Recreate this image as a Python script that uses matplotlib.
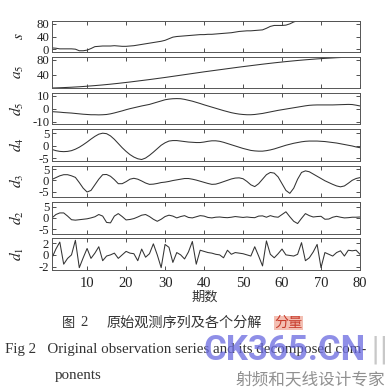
import matplotlib
matplotlib.use("Agg")
import matplotlib.pyplot as plt
import numpy as np

plt.rcParams['font.family'] = ['Liberation Serif', 'Noto Sans CJK SC']
plt.rcParams['mathtext.fontset'] = 'stix'
plt.rcParams['axes.unicode_minus'] = False

periods = np.arange(1, 81)

# original series and its wavelet components
s = [4, 3, 1, 1, 1, 1, 0, -5, -5, -3, 2, 8, 9, 10, 10, 10, 11, 10, 9, 9,
     10, 11, 13, 15, 17, 19, 21, 23, 25, 28, 33, 38, 40, 41, 42, 43, 44, 45, 46, 46,
     47, 47, 48, 49, 50, 51, 52, 54, 56, 57, 58, 58, 59, 60, 61, 66, 72, 75, 75, 75,
     76, 80, 86, 90, 89, 88, 88, 88, 88, 88, 88, 88, 88, 88, 88, 88, 89, 89, 90, 90]
a5 = [5, 5.3, 5.7, 6.1, 6.6, 7.1, 7.7, 8.3, 9.0, 9.8, 10.6, 11.4, 12.3, 13.2, 14.2, 15.2,
      16.3, 17.4, 18.6, 19.8, 21.0, 22.3, 23.6, 24.9, 26.2, 27.5, 28.9, 30.3, 31.7, 33.1,
      34.6, 36.1, 37.6, 39.1, 40.6, 42.1, 43.6, 45.1, 46.6, 48.1, 49.5, 50.9, 52.3, 53.7,
      55.1, 56.5, 57.9, 59.3, 60.7, 62.0, 63.3, 64.6, 65.9, 67.2, 68.5, 69.7, 70.9, 72.1,
      73.2, 74.3, 75.4, 76.4, 77.4, 78.4, 79.3, 80.2, 81.0, 81.8, 82.6, 83.3, 84.0, 84.6,
      85.2, 85.8, 86.3, 86.8, 87.2, 87.5, 87.8, 88.0]
d5 = [-2.2, -2.4, -2.6, -2.9, -3.1, -3.3, -3.6, -3.9, -4.2, -4.4, -4.6, -4.6, -4.7, -4.6,
      -4.4, -3.9, -3.2, -2.4, -1.6, -0.7, 0.1, 0.8, 1.5, 2.2, 2.8, 3.4, 4.3, 5.2, 6.1, 7.0,
      7.5, 7.8, 7.9, 7.8, 7.3, 6.6, 5.9, 5.0, 4.1, 3.1, 2.2, 1.3, 0.4, -0.5, -1.4, -2.2,
      -3.0, -3.6, -4.1, -4.4, -4.6, -4.6, -4.4, -4.0, -3.6, -3.0, -2.4, -1.8, -1.2, -0.7,
      -0.2, 0.3, 0.8, 1.3, 1.8, 2.3, 2.7, 2.9, 3.0, 3.0, 3.0, 3.0, 3.0, 3.1, 3.2, 3.3,
      3.4, 3.3, 2.8, 2.2]
d4 = [-1.5, -2.0, -2.3, -2.4, -2.3, -2.0, -1.4, -0.6, 0.4, 1.5, 2.7, 3.8, 4.7, 5.1, 4.9,
      4.0, 2.6, 0.9, -0.8, -2.3, -3.6, -4.6, -5.3, -5.6, -5.0, -3.9, -2.6, -1.2, 0.2, 1.2,
      1.9, 2.1, 2.1, 1.9, 1.7, 1.5, 1.4, 1.3, 1.3, 1.5, 1.8, 2.0, 2.0, 1.8, 1.4, 0.9, 0.4,
      -0.1, -0.6, -1.1, -1.5, -1.9, -2.1, -2.2, -2.2, -2.0, -1.7, -1.3, -0.8, -0.3, 0.2,
      0.6, 1.0, 1.3, 1.6, 1.8, 1.9, 1.9, 1.9, 1.8, 1.7, 1.5, 1.3, 1.1, 0.8, 0.5, 0.2,
      -0.1, -0.5, -0.8]
d3 = [0.4, 1.2, 2.0, 2.5, 2.5, 2.0, 1.3, -1.0, -3.5, -5.2, -4.5, -2.0, 0.5, 2.5, 2.6, 1.8,
      0.3, -1.5, -1.5, -0.6, 0.5, 0.9, 0.5, -0.3, -1.2, -1.8, -1.7, -1.4, -1.0, -0.8, -0.5,
      -0.1, 0.2, 0.5, 0.8, 0.8, 0.5, 0.1, -0.4, -0.9, -1.4, -1.8, -1.7, -1.2, -0.6, 0.0,
      0.6, 1.0, 1.1, 0.7, -0.5, -2.0, -2.8, -1.5, 0.5, 2.5, 3.5, 3.2, 1.5, -1.5, -4.5,
      -5.8, -3.5, 0.5, 3.5, 4.2, 3.8, 2.8, 1.8, 0.8, -0.2, -1.0, -1.8, -2.5, -2.9, -2.5,
      -1.3, 0.0, 0.8, 1.2]
d2 = [0, 1.5, 2.2, 2.2, 0.8, -0.8, -1.0, -0.8, -0.6, -0.4, 0.0, 0.5, 1.5, 0.8, -2.0, -2.2,
      0.8, 1.9, 0.6, -0.9, -0.7, -0.3, 0.4, 1.2, 1.5, 0.6, -0.6, -1.5, -0.6, 0.6, 1.2, 0.8,
      0.0, 0.6, 1.0, 0.2, 0.0, 0.5, 1.0, 0.8, 0.2, 0.0, 0.3, 0.4, 0.2, 0.1, 0.3, 0.6, 0.4,
      0.2, 0.4, 0.2, 0.1, 0.8, 0.9, 0.3, 1.0, 0.5, 0.3, 1.5, 2.7, 0.5, -1.5, -2.5, -0.2,
      1.9, 1.0, 0.4, 0.6, 0.7, -0.6, -0.5, 0.3, 0.7, 0.3, 0.0, 0.1, 0.3, 0.3, 0.4]
d1 = [-0.5, 1.0, 2.2, -1.6, -0.6, 0.0, 2.5, -2.2, -0.5, 1.1, -0.6, 0.3, 1.4, -1.0, -0.2,
      0.0, 0.3, -0.6, 0.0, 0.6, 0.3, 0.2, -1.0, 1.0, -0.4, 0.2, 1.9, 0.0, -2.2, 1.8, 1.3,
      -1.3, 0.4, 0.0, -0.7, 0.5, 2.3, -1.6, 0.8, 0.6, 0.4, 0.3, 0.1, 0.0, -0.5, 0.8, 0.1,
      0.4, 0.3, 0.2, 0.0, -0.2, 1.4, -0.2, -1.9, 2.4, 0.1, -0.5, 0.2, 1.0, 0.0, -0.1,
      -0.2, 0.1, 2.1, -1.0, -0.5, 0.5, 1.8, -2.2, 0.4, 0.1, -0.2, 0.4, 0.7, -0.2, 0.8,
      0.7, 0.8, 0.1]

names = ['$s$', '$a_5$', '$d_5$', '$d_4$', '$d_3$', '$d_2$', '$d_1$']
series = [s, a5, d5, d4, d3, d2, d1]
yticks = [[0, 40, 80], [40, 80], [-10, 0, 10], [-5, 0, 5], [-5, 0, 5], [-5, 0, 5], [-2, 0, 2]]
ylims = [(-8, 90), (5, 89), (-12, 12), (-6, 6.8), (-7.2, 6.5), (-6.9, 6.9), (-2.6, 2.85)]
xticks = [10, 20, 30, 40, 50, 60, 70, 80]

W, H = 389, 390
fig = plt.figure(figsize=(W / 100, H / 100), dpi=100)

# panel top/bottom in pixels
rows = [(20.7, 51.7), (56.5, 88), (93.3, 124.3), (129, 160.5),
        (165.7, 196.5), (202.3, 233.5), (238.3, 270)]

for i, (top, bot) in enumerate(rows):
    ax = fig.add_axes([52 / W, 1 - bot / H, 308 / W, (bot - top) / H])
    ax.plot(periods, series[i], color='#333333', lw=0.75)
    ax.set_xlim(1, 80)
    ax.set_ylim(*ylims[i])
    ax.set_yticks(yticks[i])
    ax.set_xticks(xticks)
    ax.tick_params(direction='in', top=True, right=True, length=3, width=0.6,
                   labelsize=9.2, pad=2, colors='#333333', labelcolor='#222222')
    ax.tick_params(axis='x', pad=5, labelsize=10.5)
    if i < len(rows) - 1:
        ax.set_xticklabels([])
    for sp in ax.spines.values():
        sp.set_color('#555555')
        sp.set_linewidth(0.7)
    ax.set_ylabel(names[i], fontsize=11, color='#222222')
    ax.yaxis.set_label_coords(-0.085, 0.5)

fig.text(205 / W, 1 - 297 / H, '期数', family=['Noto Sans CJK SC'], fontsize=9.5,
         ha='center', va='center', color='#333333')

# captions
fig.text(62 / W, 1 - 323 / H, '图', family=['Noto Sans CJK SC'], fontsize=9.5,
         ha='left', va='center', color='#333333')
fig.text(80 / W, 1 - 323 / H, '2', fontsize=10.5, ha='left', va='center', color='#333333')
fig.text(107 / W, 1 - 323 / H, '原始观测序列及各个分解', family=['Noto Sans CJK SC'],
         fontsize=10.2, ha='left', va='center', color='#333333')
fig.text(274 / W, 1 - 323 / H, '分量', family=['Noto Sans CJK SC'], fontsize=10.2,
         ha='left', va='center', color='#c83c2c',
         bbox=dict(facecolor='#f0b0a0', edgecolor='none', pad=0.3, alpha=0.8))
fig.text(5 / W, 1 - 349 / H, 'Fig 2   Original observation series and its decomposed com-',
         fontsize=10.8, ha='left', va='center', color='#333333')
fig.text(55 / W, 1 - 375 / H, 'ponents', fontsize=10.8, ha='left', va='center', color='#333333')

# site watermark
fig.text(285 / W, 1 - 350 / H, 'CK365.CN', fontsize=25, fontweight='bold',
         family=['Roboto'], ha='center', va='center', color='#6a6ae0', alpha=0.75)
fig.text(380 / W, 1 - 350 / H, '||', fontsize=20, family=['DejaVu Sans'],
         ha='center', va='center', color='#c8c8c8')
fig.text(310 / W, 1 - 380 / H, '射频和天线设计专家', family=['Noto Sans CJK SC'],
         fontsize=12, ha='center', va='center', color='#909090')

fig.savefig('out.png', dpi=100)
